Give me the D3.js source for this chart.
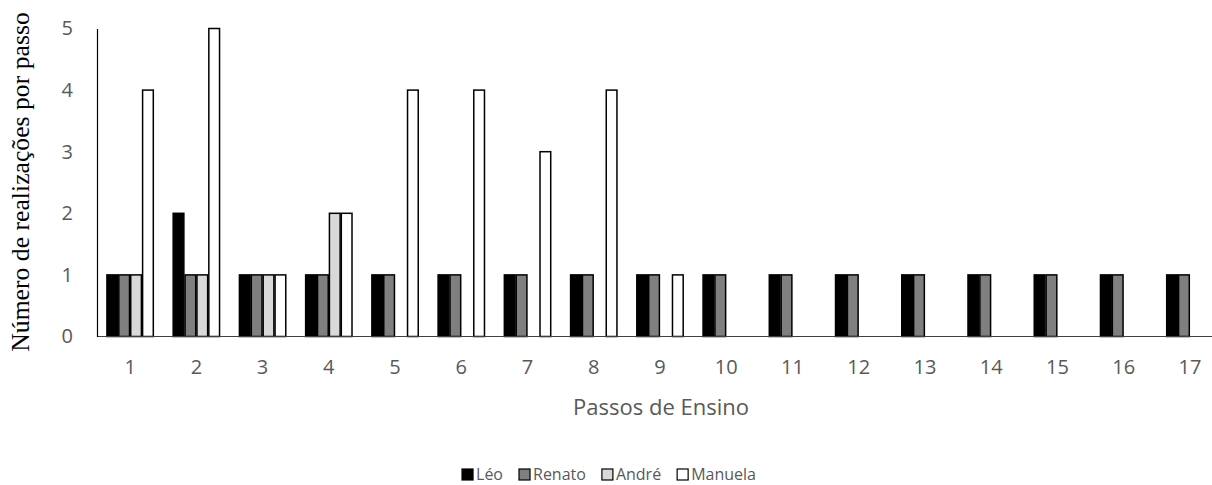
<!DOCTYPE html>
<html>
<head>
<meta charset="utf-8">
<script src="https://cdn.jsdelivr.net/npm/d3@7/dist/d3.min.js"></script>
<style>
  html, body { margin: 0; padding: 0; background: #fff; }
  svg { display: block; }
</style>
</head>
<body>
<svg id="chart" width="1212" height="485"></svg>
<script>
// Teaching steps on the x axis
const passos = ["1","2","3","4","5","6","7","8","9","10","11","12","13","14","15","16","17"];
// Number of times each person performed each step
const leo     = [1,2,1,1,1,1,1,1,1,1,1,1,1,1,1,1,1];
const renato  = [1,1,1,1,1,1,1,1,1,1,1,1,1,1,1,1,1];
const andre   = [1,1,1,2,0,0,0,0,0,0,0,0,0,0,0,0,0];
const manuela = [4,5,1,2,4,4,3,4,1,0,0,0,0,0,0,0,0];
const seriesNames = ["Léo", "Renato", "André", "Manuela"];
const seriesColors = ["#000000", "#7f7f7f", "#d9d9d9", "#ffffff"];
const yTicks = [0,1,2,3,4,5];

const series = [leo, renato, andre, manuela];

const svg = d3.select("#chart");
const plotLeft = 97, plotRight = 1223, plotTop = 28.5, plotBottom = 336.5;

const x0 = d3.scaleBand().domain(passos).range([plotLeft, plotRight])
  .paddingInner(0.3).paddingOuter(0.15);
const x1 = d3.scaleBand().domain(seriesNames).range([0, x0.bandwidth()])
  .paddingInner(0.1).paddingOuter(0);
const y = d3.scaleLinear().domain([0, 5]).range([plotBottom, plotTop]);
const color = d3.scaleOrdinal().domain(seriesNames).range(seriesColors);

const tickFont = "'Open Sans', 'Liberation Sans', sans-serif";

// Bars, one group per step
const groups = svg.append("g").selectAll("g")
  .data(passos)
  .join("g")
  .attr("transform", d => `translate(${x0(d)},0)`);

groups.selectAll("rect")
  .data((d, i) => seriesNames.map((name, k) => ({ name, value: series[k][i] })).filter(e => e.value > 0))
  .join("rect")
  .attr("x", d => x1(d.name))
  .attr("width", x1.bandwidth())
  .attr("y", d => y(d.value))
  .attr("height", d => y(0) - y(d.value))
  .attr("fill", d => color(d.name))
  .attr("stroke", "#000")
  .attr("stroke-width", 1.5);

// Baseline
svg.append("line")
  .attr("x1", plotLeft).attr("x2", 1212)
  .attr("y1", y(0)).attr("y2", y(0))
  .attr("stroke", "#404040").attr("stroke-width", 1.2);

// Y axis
const yAxis = d3.axisLeft(y).tickValues(yTicks).tickSize(0).tickPadding(24).tickFormat(d3.format("d"));
const gy = svg.append("g").attr("transform", `translate(${plotLeft},0)`).call(yAxis);
gy.select(".domain").attr("stroke", "#000").attr("stroke-width", 1.2);
gy.selectAll("text").attr("font-family", tickFont).attr("font-size", 20).attr("fill", "#595959");

// X axis labels
const xAxis = d3.axisBottom(x0).tickSize(0).tickPadding(23);
const gx = svg.append("g").attr("transform", `translate(0,${y(0)})`).call(xAxis);
gx.select(".domain").remove();
gx.selectAll("text").attr("font-family", tickFont).attr("font-size", 20).attr("fill", "#595959");

// Axis titles
svg.append("text")
  .attr("x", 661).attr("y", 415)
  .attr("text-anchor", "middle")
  .attr("font-family", tickFont).attr("font-size", 22).attr("fill", "#595959")
  .text("Passos de Ensino");

svg.append("text")
  .attr("transform", "translate(29,182) rotate(-90)")
  .attr("text-anchor", "middle")
  .attr("font-family", "'Liberation Serif', 'Times New Roman', serif")
  .attr("font-size", 25.7).attr("fill", "#000")
  .text("Número de realizações por passo");

// Legend, laid out left to right and centred under the plot
const legendFont = 16, swatch = 11, textGap = 3, itemGap = 16, legendCenter = 609;
const lg = svg.append("g");
const items = lg.selectAll("g").data(seriesNames).join("g");
items.append("rect")
  .attr("y", -swatch)
  .attr("width", swatch).attr("height", swatch)
  .attr("fill", d => color(d))
  .attr("stroke", "#000").attr("stroke-width", 1.2);
items.append("text")
  .attr("x", swatch + textGap).attr("y", 0)
  .attr("font-family", tickFont).attr("font-size", legendFont).attr("fill", "#595959")
  .text(d => d);
let cursor = 0;
items.each(function () {
  const w = swatch + textGap + d3.select(this).select("text").node().getComputedTextLength();
  d3.select(this).attr("transform", `translate(${cursor},0)`);
  cursor += w + itemGap;
});
const legendWidth = cursor - itemGap;
lg.attr("transform", `translate(${legendCenter - legendWidth / 2},480)`);
</script>
</body>
</html>
